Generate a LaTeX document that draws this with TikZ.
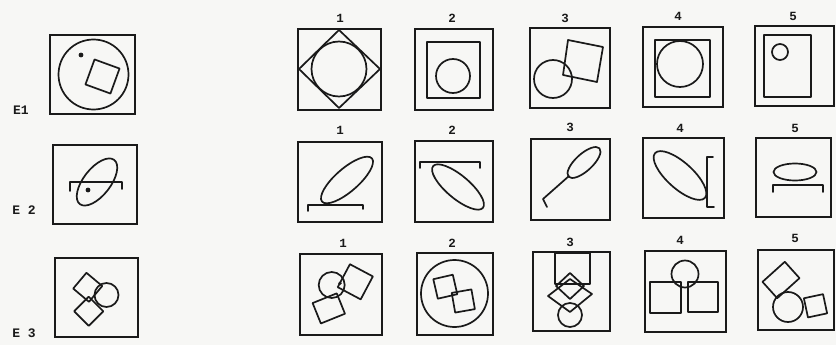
\documentclass[tikz,border=0pt]{standalone}
\usepackage{fontspec}
\setmonofont{Liberation Mono}
\definecolor{inkc}{HTML}{1A1A1A}
\definecolor{paper}{HTML}{F7F7F5}
% square of half side #4 centred at (#1,#2), turned by #3 degrees
\newcommand{\tiltsq}[4]{\draw[ink,shift={(#1,#2)},rotate=#3] (-#4,-#4) -- (#4,-#4) -- (#4,#4) -- (-#4,#4) -- cycle;}
% rectangle of half sizes #4 x #5 centred at (#1,#2), turned by #3 degrees
\newcommand{\tiltrect}[5]{\draw[ink,shift={(#1,#2)},rotate=#3] (-#4,-#5) -- (#4,-#5) -- (#4,#5) -- (-#4,#5) -- cycle;}
\begin{document}
\begin{tikzpicture}[x=1pt,y=-1pt,
  ink/.style={draw=inkc, line width=1.7pt, line join=round, line cap=round},
  frame/.style={draw=inkc, line width=2.2pt},
  num/.style={font=\ttfamily\bfseries\fontsize{12.5}{12.5}\selectfont, text=inkc, inner sep=0pt},
  tag/.style={font=\ttfamily\bfseries\fontsize{13}{13}\selectfont, text=inkc, inner sep=0pt}]
\useasboundingbox (0,0) rectangle (836,345);
\fill[paper] (0,0) rectangle (836,345);

% ---------- example column ----------
\draw[frame] (50,35) rectangle (135,114);
\draw[ink] (93.5,74.5) circle[radius=35];
\fill[inkc] (81,55) circle[radius=2.4];
\tiltsq{102.5}{76.5}{-20}{13.3}
\node[tag] (e1) at (21,110) {E1};

\draw[frame] (53,145) rectangle (137,224);
\draw[ink,rotate around={52:(97,182)}] (97,182) ellipse [x radius=28, y radius=13.5];
\draw[ink] (70,191) -- (70,182) -- (122,182) -- (122,189);
\fill[inkc] (88,190) circle[radius=2.4];
\node[tag] (e2) at (24,210) {E 2};

\draw[frame] (55,258) rectangle (138,337);
\tiltsq{87.7}{287.3}{50}{10.3}
\tiltsq{88.7}{311.3}{45}{10.3}
\draw[ink] (106.5,295) circle[radius=12];
\node[tag] (e3) at (24,333) {E 3};

% ---------- row 1 ----------
\draw[frame] (298,29) rectangle (381,110);
\node[num] (r1a) at (340,18) {1};
\draw[ink] (339,30) -- (380,69) -- (339,108) -- (299,69) -- cycle;
\draw[ink] (339,69) circle[radius=27.5];

\draw[frame] (415,29) rectangle (493,110);
\node[num] (r1b) at (452,18) {2};
\draw[ink] (427,42) rectangle (480,98);
\draw[ink] (453,76) circle[radius=17];

\draw[frame] (530,28) rectangle (610,108);
\node[num] (r1c) at (565,18) {3};
\draw[ink] (553,79) circle[radius=19];
\draw[ink] (568,40) -- (603,47) -- (597,82) -- (563,75) -- cycle;

\draw[frame] (643,27) rectangle (723,107);
\node[num] (r1d) at (678,16) {4};
\draw[ink] (655,40) rectangle (710,97);
\draw[ink] (680,64) circle[radius=23];

\draw[frame] (755,26) rectangle (834,106);
\node[num] (r1e) at (793,16) {5};
\draw[ink] (764,35) rectangle (811,97);
\draw[ink] (780,52) circle[radius=8];

% ---------- row 2 ----------
\draw[frame] (298,142) rectangle (382,222);
\node[num] (r2a) at (340,130) {1};
\draw[ink,rotate around={41:(347,180)}] (347,180) ellipse [x radius=33, y radius=11.5];
\draw[ink] (308,211) -- (308,205) -- (363,205) -- (363,209);

\draw[frame] (415,141) rectangle (493,222);
\node[num] (r2b) at (452,130) {2};
\draw[ink] (420,168) -- (420,162) -- (480,162) -- (480,168);
\draw[ink,rotate around={-40:(458,187)}] (458,187) ellipse [x radius=32.5, y radius=11.5];

\draw[frame] (531,139) rectangle (610,220);
\node[num] (r2c) at (570,127) {3};
\draw[ink,rotate around={42.5:(584,162.5)}] (584,162.5) ellipse [x radius=21, y radius=8.5];
\draw[ink] (569,176) -- (543,199) -- (547,207);

\draw[frame] (643,138) rectangle (724,218);
\node[num] (r2d) at (680,128) {4};
\draw[ink,rotate around={-42:(680,175.5)}] (680,175.5) ellipse [x radius=33.5, y radius=13];
\draw[ink] (713,157) -- (707,157) -- (707,207) -- (714,207);

\draw[frame] (756,138) rectangle (831,217);
\node[num] (r2e) at (795,128) {5};
\draw[ink] (795,172) ellipse [x radius=21.5, y radius=8.5];
\draw[ink] (773,192) -- (773,185) -- (823,185) -- (823,192);

% ---------- row 3 ----------
\draw[frame] (300,254) rectangle (382,335);
\node[num] (r3a) at (343,243) {1};
\draw[ink] (331.7,285) circle[radius=13];
\tiltsq{355.3}{281.8}{-28}{13}
\tiltrect{328.8}{308.4}{22}{13}{11}
\fill[inkc] (340,283.3) circle[radius=1.9];

\draw[frame] (417,253) rectangle (493,335);
\node[num] (r3b) at (452,243) {2};
\draw[ink] (454.5,293.5) circle[radius=33.5];
\tiltsq{445.3}{286.7}{13}{10}
\tiltsq{463.3}{301}{10}{10}

\draw[frame] (533,252) rectangle (610,331);
\node[num] (r3c) at (570,242) {3};
\draw[ink] (555,253) rectangle (590,284);
\draw[ink] (570,273) -- (584,286) -- (570,299) -- (556,286) -- cycle;
\draw[ink] (570,279) -- (592,294) -- (570,312) -- (548,296) -- cycle;
\draw[ink] (570,315) circle[radius=12];

\draw[frame] (645,251) rectangle (726,332);
\node[num] (r3d) at (680,240) {4};
\draw[ink] (685,274) circle[radius=13.5];
\draw[ink] (650,282) rectangle (681,313);
\draw[ink] (688,282) rectangle (718,312);

\draw[frame] (758,250) rectangle (834,330);
\node[num] (r3e) at (795,238) {5};
\tiltrect{781}{280}{42}{15}{11}
\draw[ink] (788,307) circle[radius=15];
\tiltsq{815.5}{305.8}{12}{9.8}
\end{tikzpicture}
\end{document}
